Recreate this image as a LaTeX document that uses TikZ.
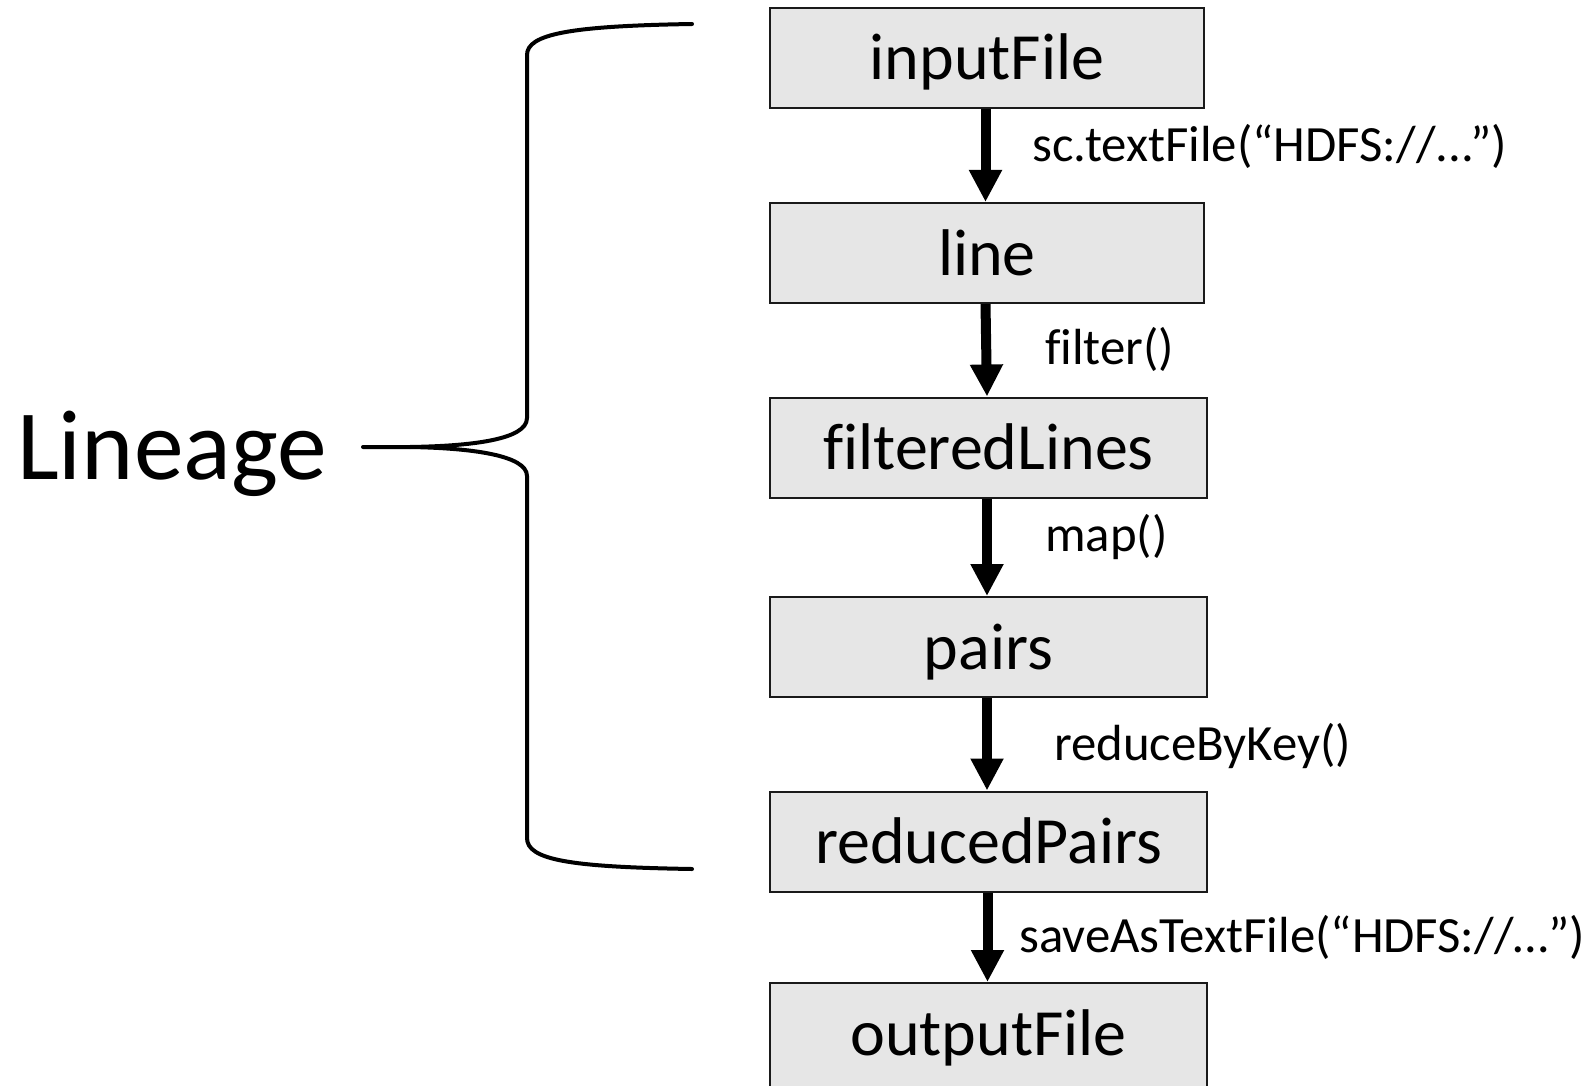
\documentclass[tikz,border=0pt]{standalone}
\usepackage{fontspec}
\setmainfont{Carlito}[Ligatures=NoCommon]
\usetikzlibrary{arrows.meta}
\definecolor{boxfill}{HTML}{E6E6E6}
\definecolor{boxline}{HTML}{1A1A1A}
\begin{document}
\begin{tikzpicture}[x=1pt,y=-1pt,
  rdd/.style={draw=boxline,line width=2pt,fill=boxfill,inner sep=0pt,
    minimum height=100pt,text height=50pt,text depth=6pt,
    font=\fontsize{66}{70}\selectfont},
  op/.style={anchor=base west,inner sep=0pt,font=\fontsize{50.8}{54}\selectfont},
  flow/.style={line width=10pt,-{Triangle[width=31pt,length=32pt]}},
  bracestyle/.style={line width=4pt,line cap=round,line join=round}]
\useasboundingbox (0,0) rectangle (1589,1086);
% boxes
\node[rdd,minimum width=434pt] (in) at (987,58) {inputFile};
\node[rdd,minimum width=434pt] (ln) at (987,253) {line};
\node[rdd,minimum width=437pt] (fl) at (988.5,447.5) {filteredLines};
\node[rdd,minimum width=437pt] (pr) at (988.5,647) {pairs};
\node[rdd,minimum width=437pt] (rp) at (988.5,841.5) {reducedPairs};
\node[rdd,minimum width=437pt,minimum height=112pt,text height=44pt,text depth=12pt] (of) at (988.5,1039) {outputFile};
% arrows
\draw[flow] ([xshift=-1.5pt]in.south) -- ([xshift=-1.5pt]ln.north);
\draw[flow] ([xshift=-1.5pt]ln.south) -- ([xshift=-1.5pt]fl.north);
\draw[flow] ([xshift=-1.5pt]fl.south) -- ([xshift=-1.5pt]pr.north);
\draw[flow] ([xshift=-1.5pt]pr.south) -- ([xshift=-1.5pt]rp.north);
\draw[flow] ([xshift=-1pt]rp.south) -- ([xshift=-1pt]of.north);
% labels
\node[op] (l1) at (1032,162) {sc.textFile(“HDFS://...”)};
\node[op] (l2) at (1045,364) {filter()};
\node[op] (l3) at (1045,551) {map()};
\node[op] (l4) at (1054,760) {reduceByKey()};
\node[op] (l5) at (1019,952) {saveAsTextFile(“HDFS://…”)};
% lineage brace
\node[anchor=base west,inner sep=0pt,font=\fontsize{99.5}{100}\selectfont] (lin) at (17,479) {Lineage};
\coordinate (btop) at (692,24);
\coordinate (bbot) at (692,869);
\coordinate (tip) at (363,447);
\draw[bracestyle] (btop) .. controls (570,26) and (527,34) .. (527,55)
  -- (527,418) .. controls (527,440) and (470,446) .. (410,447) -- (tip);
\draw[bracestyle] (410,447) .. controls (470,448) and (527,455) .. (527,476)
  -- (527,838) .. controls (527,860) and (570,867) .. (bbot);
\end{tikzpicture}
\end{document}
